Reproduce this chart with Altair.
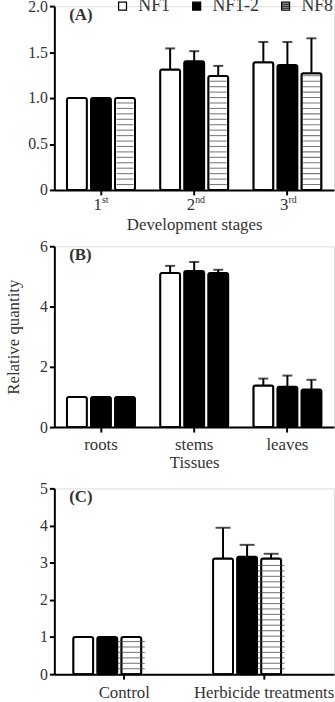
import altair as alt
import pandas as pd

# ---- data -------------------------------------------------------------
series = ["NF1", "NF1-2", "NF8"]

stages = ["1st", "2nd", "3rd"]
stage_mean = {"NF1": [1.0, 1.31, 1.39], "NF1-2": [1.0, 1.40, 1.36], "NF8": [1.0, 1.24, 1.27]}
stage_sd = {"NF1": [0.0, 0.23, 0.22], "NF1-2": [0.0, 0.11, 0.25], "NF8": [0.0, 0.11, 0.38]}

tissues = ["roots", "stems", "leaves"]
tissue_mean = {"NF1": [1.0, 5.11, 1.38], "NF1-2": [1.0, 5.18, 1.34], "NF8": [1.0, 5.11, 1.25]}
tissue_sd = {"NF1": [0.0, 0.24, 0.23], "NF1-2": [0.0, 0.30, 0.37], "NF8": [0.0, 0.11, 0.32]}

treatments = ["Control", "Herbicide treatments"]
treat_mean = {"NF1": [1.0, 3.11], "NF1-2": [1.0, 3.16], "NF8": [1.0, 3.11]}
treat_sd = {"NF1": [0.0, 0.83], "NF1-2": [0.0, 0.32], "NF8": [0.0, 0.13]}

FONT = "Liberation Serif"
INK = "#333333"
W = 283
P_INNER, P_OUTER, OFF_INNER = 0.27, 0.135, 0.17

SQUARE = "M-1,-1H1V1H-1Z"
STRIPED = "M-1,-1H1V1H-1Z M-1,-0.5H1 M-1,0H1 M-1,0.5H1"


def long_table(cats, mean, sd):
    rows = []
    for s in series:
        for c, m, e in zip(cats, mean[s], sd[s]):
            rows.append({"cat": c, "series": s, "value": m, "top": m + e, "sd": e})
    return pd.DataFrame(rows)


def stripe_table(df, px_per_unit, gap_px=5.5):
    step = gap_px / px_per_unit
    rows = []
    for _, r in df[df["series"] == "NF8"].iterrows():
        k = 1
        while k * step < r["value"] - step * 0.4:
            rows.append({"cat": r["cat"], "series": r["series"], "y": k * step})
            k += 1
    return pd.DataFrame(rows)


def panel(df, cats, ymax, tick_vals, height, fills, tag, xtitle, striped,
          ylabel_expr="datum.label", ytitle=None, legend=None, xlabels=True,
          label_pad=4, title_pad=0):
    n = len(cats)
    step = W / (n - P_INNER + 2 * P_OUTER)
    band = step * (1 - P_INNER)
    bar_w = band / (3 - OFF_INNER) * (1 - OFF_INNER)

    x = alt.X("cat:N", sort=cats,
              scale=alt.Scale(paddingInner=P_INNER, paddingOuter=P_OUTER),
              axis=alt.Axis(title=xtitle, labels=xlabels, labelAngle=0,
                            labelFont=FONT, labelFontSize=17, labelColor=INK,
                            labelPadding=label_pad,
                            titleFont=FONT, titleFontSize=17, titleFontWeight="normal",
                            titleColor=INK, titlePadding=title_pad,
                            domainColor="black", domainWidth=2,
                            tickColor="black", tickWidth=2, tickSize=5))
    xo = alt.XOffset("series:N", sort=series, scale=alt.Scale(paddingInner=OFF_INNER))
    yaxis = alt.Axis(values=tick_vals, grid=False, title=ytitle, labelExpr=ylabel_expr,
                     labelOverlap=False,
                     labelFont=FONT, labelFontSize=16, labelColor=INK, labelPadding=2,
                     titleFont=FONT, titleFontSize=17, titleFontWeight="normal",
                     titleColor=INK, titleX=-32,
                     domainColor="black", domainWidth=2,
                     tickColor="black", tickWidth=2, tickSize=5)
    yscale = alt.Scale(domain=[0, ymax], nice=False)

    fill = alt.Fill("series:N", sort=series,
                    scale=alt.Scale(domain=series, range=fills),
                    legend=legend)

    base = alt.Chart(df)
    bars = base.mark_bar(stroke="black", strokeWidth=2, cornerRadius=2).encode(
        x=x, xOffset=xo, y=alt.Y("value:Q", scale=yscale, axis=yaxis), fill=fill)

    layers = [bars]
    if striped:
        px = height / ymax
        st = alt.Chart(stripe_table(df, px)).mark_tick(
            orient="horizontal", color="#444444", thickness=1.1, size=bar_w - 3
        ).encode(x=x, xOffset=xo, y=alt.Y("y:Q", scale=yscale, axis=yaxis))
        layers.append(st)

    err = base.transform_filter("datum.sd > 0")
    stem = err.mark_rule(color="black", strokeWidth=2).encode(
        x=x, xOffset=xo, y=alt.Y("value:Q", scale=yscale, axis=yaxis), y2="top:Q")
    cap = err.mark_tick(orient="horizontal", color="black", thickness=2,
                        size=bar_w * 0.5).encode(
        x=x, xOffset=xo, y=alt.Y("top:Q", scale=yscale, axis=yaxis))
    layers += [stem, cap]

    tag_text = alt.Chart(pd.DataFrame({"t": [tag]})).mark_text(
        font=FONT, fontSize=17, fontWeight="bold", color=INK, align="left", baseline="middle"
    ).encode(x=alt.value(15), y=alt.value(9), text="t:N")
    layers.append(tag_text)

    if legend is not None:
        key = alt.Chart(df).transform_filter("false").mark_point(
            filled=True, opacity=1, stroke="black", strokeWidth=1.3).encode(
            fill=fill,
            shape=alt.Shape("series:N", sort=series,
                            scale=alt.Scale(domain=series, range=[SQUARE, SQUARE, STRIPED]),
                            legend=legend))
        layers.append(key)

    return alt.layer(*layers).properties(width=W, height=height)


legend_a = alt.Legend(title=None, orient="none", legendX=60, legendY=-9,
                      direction="horizontal", symbolSize=64,
                      symbolStrokeColor="black", symbolStrokeWidth=1.3,
                      labelFont=FONT, labelFontSize=18, labelColor=INK,
                      labelOffset=7, columnPadding=17)

df_a = long_table(stages, stage_mean, stage_sd)
chart_a = panel(df_a, stages, 2.0, [0, 0.5, 1.0, 1.5, 2.0], 186,
                ["white", "black", "white"], "(A)", "Development stages", True,
                ylabel_expr="datum.value == 0 ? '0' : format(datum.value, '.1f')",
                legend=legend_a, xlabels=False, title_pad=21)

# ordinal suffixes drawn as superscripts under the stage ticks
lab = pd.DataFrame({"cat": stages,
                    "num": [s[:-2] for s in stages],
                    "suf": [s[-2:] for s in stages]})
xs = alt.X("cat:N", sort=stages, scale=alt.Scale(paddingInner=P_INNER, paddingOuter=P_OUTER))
num_text = alt.Chart(lab).mark_text(font=FONT, fontSize=17, color=INK, align="right",
                                    baseline="top", dx=1).encode(
    x=xs, y=alt.value(186 + 7), text="num:N")
suf_text = alt.Chart(lab).mark_text(font=FONT, fontSize=10, color=INK, align="left",
                                    baseline="top", dx=1).encode(
    x=xs, y=alt.value(186 + 5), text="suf:N")
chart_a = alt.layer(chart_a, num_text, suf_text)

df_b = long_table(tissues, tissue_mean, tissue_sd)
chart_b = panel(df_b, tissues, 6, [0, 2, 4, 6], 183,
                ["white", "black", "black"], "(B)", "Tissues", False,
                ytitle="Relative quantity", label_pad=5, title_pad=2)

df_c = long_table(treatments, treat_mean, treat_sd)
chart_c = panel(df_c, treatments, 5, [0, 1, 2, 3, 4, 5], 188,
                ["white", "black", "white"], "(C)", None, True, label_pad=6)

top_two = alt.vconcat(chart_a, chart_b, spacing=4).resolve_scale(
    fill="independent", shape="independent", x="independent", y="independent")

chart = alt.vconcat(top_two, chart_c, spacing=8).resolve_scale(
    fill="independent", shape="independent", x="independent", y="independent"
).properties(
    padding={"left": 4, "top": -8, "right": 0, "bottom": 0}
).configure_view(stroke=None).configure(background="white").configure_legend(
    labelFont=FONT, labelFontSize=18, labelColor=INK)

chart.save("out.html", embed_options={"renderer": "svg", "actions": False})
